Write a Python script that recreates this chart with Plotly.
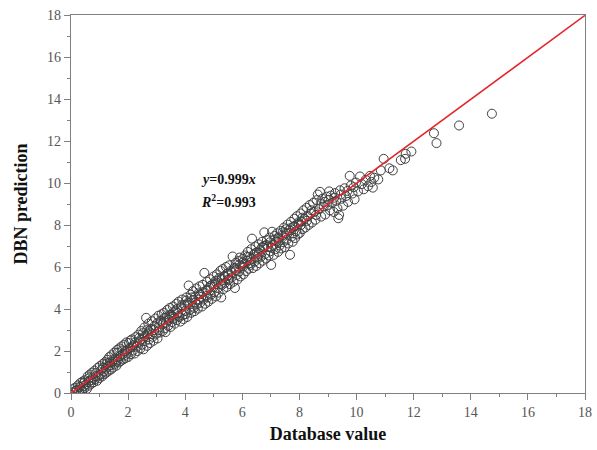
import plotly.graph_objects as go

# Database values vs. DBN model predictions
database_value = [
    0.03, 0.07, 0.11, 0.14, 0.16, 0.21, 0.24, 0.27, 0.31, 0.33, 0.36, 0.39, 0.41, 0.44, 0.47, 0.49, 0.53, 0.56,
    0.58, 0.61, 0.63, 0.66, 0.69, 0.71, 0.74, 0.77, 0.79, 0.82, 0.84, 0.87, 0.91, 0.93, 0.96, 0.99,
    1.01, 1.04, 1.06, 1.09, 1.11, 1.14, 1.17, 1.19, 1.22, 1.24, 1.27, 1.29, 1.32, 1.34, 1.37, 1.40, 1.42, 1.44,
    1.47, 1.51, 1.53, 1.56, 1.59, 1.61, 1.64, 1.67, 1.69, 1.72, 1.74, 1.77, 1.81, 1.83, 1.86, 1.89, 1.91, 1.94,
    1.97,
    2.01, 2.03, 2.07, 2.10, 2.13, 2.17, 2.20, 2.23, 2.26, 2.30, 2.33, 2.36, 2.40, 2.43, 2.46, 2.49, 2.51, 2.54,
    2.57, 2.60, 2.63, 2.66, 2.69, 2.71, 2.74, 2.77, 2.80, 2.83, 2.86, 2.89, 2.93, 2.96, 2.99,
    3.03, 3.06, 3.09, 3.11, 3.14, 3.17, 3.21, 3.23, 3.26, 3.29, 3.31, 3.34, 3.37, 3.40, 3.43, 3.46, 3.49, 3.51,
    3.54, 3.57, 3.60, 3.63, 3.66, 3.69, 3.71, 3.74, 3.77, 3.80, 3.83, 3.86, 3.89, 3.91, 3.94, 3.97,
    4.01, 4.04, 4.07, 4.10, 4.12, 4.16, 4.19, 4.21, 4.24, 4.27, 4.30, 4.33, 4.36, 4.39, 4.41, 4.44, 4.47, 4.50,
    4.53, 4.56, 4.59, 4.61, 4.64, 4.67, 4.70, 4.73, 4.76, 4.79, 4.81, 4.84, 4.87, 4.90, 4.93, 4.96, 4.99,
    5.02, 5.05, 5.08, 5.11, 5.14, 5.17, 5.20, 5.23, 5.26, 5.29, 5.31, 5.34, 5.37, 5.40, 5.43, 5.46, 5.49, 5.51,
    5.54, 5.57, 5.60, 5.63, 5.66, 5.69, 5.71, 5.74, 5.77, 5.80, 5.83, 5.86, 5.89, 5.91, 5.94, 5.97,
    6.01, 6.04, 6.07, 6.10, 6.13, 6.16, 6.19, 6.22, 6.25, 6.28, 6.31, 6.34, 6.37, 6.40, 6.43, 6.46, 6.49, 6.51,
    6.54, 6.57, 6.60, 6.63, 6.66, 6.69, 6.71, 6.74, 6.77, 6.80, 6.83, 6.86, 6.89, 6.92, 6.95, 6.98,
    7.01, 7.04, 7.07, 7.10, 7.13, 7.16, 7.19, 7.22, 7.25, 7.28, 7.31, 7.34, 7.37, 7.40, 7.43, 7.46, 7.49, 7.52,
    7.55, 7.58, 7.61, 7.64, 7.67, 7.70, 7.73, 7.76, 7.79, 7.82, 7.85, 7.88, 7.91, 7.94, 7.97,
    8.01, 8.04, 8.07, 8.11, 8.14, 8.18, 8.21, 8.25, 8.28, 8.32, 8.36, 8.40, 8.44, 8.48, 8.52, 8.56, 8.60, 8.64,
    8.68, 8.72, 8.76, 8.80, 8.85, 8.90, 8.95, 8.98,
    9.04, 9.07, 9.10, 9.15, 9.20, 9.25, 9.29, 9.33, 9.36, 9.39, 9.42, 9.47, 9.53, 9.58, 9.63, 9.70, 9.76, 9.80,
    9.86, 9.93, 9.98,
    10.05, 10.12, 10.18, 10.25, 10.32, 10.40, 10.47, 10.52, 10.57, 10.62, 10.76, 10.85, 10.95, 11.15, 11.27,
    11.55, 11.70, 11.72, 11.92, 12.71, 12.80, 13.59, 14.74,
    # samples lying close to the fitted line
    1.26, 1.48, 1.63, 1.88, 2.08, 2.24, 2.38, 2.52, 2.58, 2.73, 2.91, 3.02, 3.16, 3.28, 3.44, 3.59, 3.72, 3.87,
    3.99, 4.08, 4.22, 4.35, 4.48, 4.62, 4.74, 4.88, 5.00, 5.12, 5.25, 5.38, 5.50, 5.62, 5.78, 5.90, 6.03, 6.17,
    6.30, 6.44, 6.58, 6.70, 6.84, 6.97, 7.12, 7.26, 7.41, 7.56, 7.69, 7.83, 7.96, 8.10, 8.26, 8.42, 8.58, 8.74,
    8.88, 9.02, 9.22, 9.45, 9.68, 9.90, 0.45, 0.62, 0.86, 1.12, 1.36, 1.58, 1.79, 1.96, 2.15, 2.44, 2.67, 2.84,
    3.08, 3.33, 3.55, 3.78, 4.03, 4.26, 4.52, 4.78, 5.04, 5.28, 5.52, 5.76, 6.02, 6.26, 6.52, 6.76, 7.02, 7.27,
    7.53, 7.78, 8.05,
]

dbn_prediction = [
    0.06, 0.18, 0.02, 0.25, 0.09, 0.14, 0.36, 0.05, 0.29, 0.48, 0.18, 0.10, 0.55, 0.33, 0.22, 0.61, 0.41, 0.20,
    0.79, 0.52, 0.35, 0.88, 0.60, 0.44, 0.97, 0.73, 0.51, 1.06, 0.66, 0.95, 0.58, 1.19, 0.82, 0.71,
    1.28, 0.88, 1.10, 0.79, 1.38, 1.02, 0.90, 1.47, 1.16, 0.97, 1.58, 1.25, 1.06, 1.71, 1.31, 1.12, 1.80, 1.48,
    1.21, 1.92, 1.39, 1.62, 1.30, 2.05, 1.58, 1.45, 2.12, 1.76, 1.52, 2.22, 1.85, 1.60, 2.30, 1.97, 1.66, 2.41,
    2.06,
    1.72, 2.38, 2.15, 1.85, 2.55, 2.02, 2.28, 1.88, 2.66, 2.20, 2.00, 2.78, 2.45, 2.12, 2.95, 2.30, 2.58, 2.08,
    3.12, 2.47, 3.58, 2.25, 2.80, 3.30, 2.55, 2.38, 3.05, 3.42, 2.68, 2.49, 3.20, 3.55, 2.82,
    2.60, 3.68, 3.12, 2.88, 3.45, 3.75, 2.95, 3.30, 3.82, 3.08, 2.90, 3.60, 3.95, 3.20, 3.48, 4.05, 3.15, 3.72,
    3.38, 4.12, 3.55, 3.30, 3.90, 4.25, 3.48, 3.80, 4.35, 3.62, 3.40, 4.08, 4.45, 3.70, 3.52, 4.20,
    3.75, 4.55, 3.62, 4.30, 5.12, 3.95, 4.68, 3.82, 4.40, 4.85, 4.05, 3.90, 4.60, 4.98, 4.22, 4.02, 4.75, 5.08,
    4.30, 4.58, 4.12, 5.15, 4.45, 5.72, 4.25, 4.88, 5.30, 4.55, 4.35, 5.02, 5.42, 4.68, 4.48, 5.18, 5.55,
    4.80, 5.32, 4.60, 5.65, 5.00, 4.78, 5.48, 5.82, 4.55, 5.15, 5.90, 4.95, 5.58, 5.25, 6.00, 5.05, 5.70, 5.38,
    6.08, 5.18, 5.82, 5.50, 6.50, 5.30, 5.95, 5.00, 6.20, 5.62, 5.40, 6.28, 5.78, 6.45, 5.55, 6.05,
    6.38, 5.65, 6.15, 6.55, 5.80, 6.30, 6.72, 5.92, 6.48, 6.10, 6.85, 7.35, 5.95, 6.60, 6.25, 6.98, 6.05, 6.70,
    6.40, 7.08, 6.18, 6.82, 6.50, 7.20, 6.30, 6.92, 7.65, 6.62, 6.40, 7.28, 6.95, 6.55, 7.40, 6.75,
    6.10, 7.68, 7.05, 6.58, 7.48, 6.85, 7.22, 7.60, 6.72, 7.35, 7.02, 7.72, 6.88, 7.50, 7.18, 7.88, 6.95, 7.62,
    7.30, 8.02, 7.12, 7.75, 6.58, 8.15, 7.45, 7.20, 7.92, 8.30, 7.38, 7.70, 8.42, 7.55, 8.05,
    7.62, 8.55, 8.18, 7.80, 8.70, 8.30, 7.88, 8.82, 8.42, 8.00, 8.95, 8.55, 8.12, 9.05, 8.62, 8.25, 9.18, 9.45,
    8.75, 9.58, 8.40, 9.25, 8.88, 8.50, 9.35, 8.95,
    9.60, 8.70, 9.40, 9.05, 8.62, 9.52, 9.15, 8.80, 8.32, 8.48, 9.65, 9.25, 8.92, 9.75, 9.38, 9.10, 10.34, 9.88,
    9.50, 9.22, 10.02,
    9.60, 10.31, 9.95, 9.70, 10.15, 9.85, 10.34, 10.05, 9.78, 10.25, 10.17, 10.60, 11.15, 10.70, 10.60,
    11.09, 11.15, 11.39, 11.50, 12.37, 11.90, 12.74, 13.30,
    # samples lying close to the fitted line
    1.41, 1.60, 1.92, 1.78, 2.50, 2.40, 2.62, 2.85, 2.70, 2.95, 3.00, 3.32, 3.40, 3.58, 3.70, 3.85, 4.00, 4.18,
    3.90, 4.22, 4.55, 4.30, 4.45, 4.80, 4.62, 5.10, 5.05, 5.35, 5.20, 5.55, 5.60, 5.75, 5.85, 6.12, 6.02, 6.48,
    6.40, 6.65, 6.68, 6.95, 7.05, 7.18, 7.30, 7.40, 7.65, 7.58, 7.85, 7.95, 8.12, 8.35, 8.20, 8.70, 8.48, 9.00,
    9.10, 9.20, 9.30, 9.45, 9.62, 9.80, 0.48, 0.70, 0.80, 1.20, 1.45, 1.50, 2.02, 1.88, 2.20, 2.55, 3.02, 2.80,
    2.98, 3.35, 3.62, 3.68, 4.40, 4.12, 4.70, 4.90, 5.18, 5.45, 5.42, 5.95, 6.22, 6.18, 6.50, 7.00, 6.92, 7.20,
    7.80, 7.60, 8.00,
]

# Linear fit through the origin
fit_slope = 0.999
fit_r2 = 0.993
fit_x = [0, 18]
fit_y = [fit_slope * v for v in fit_x]

tick_vals = [0, 2, 4, 6, 8, 10, 12, 14, 16, 18]

serif = "Liberation Serif, Times New Roman, serif"

fig = go.Figure()

fig.add_trace(go.Scatter(
    x=database_value, y=dbn_prediction, mode="markers",
    marker=dict(symbol="circle-open", size=9, color="#404040", line=dict(width=1)),
    showlegend=False,
))

fig.add_trace(go.Scatter(
    x=fit_x, y=fit_y, mode="lines",
    line=dict(color="#e3262b", width=1.6),
    showlegend=False,
))

axis_common = dict(
    range=[0, 18],
    tickmode="array",
    tickvals=tick_vals,
    ticks="outside",
    ticklen=6,
    tickwidth=1,
    tickcolor="#808080",
    minor=dict(dtick=1, ticks="outside", ticklen=3, tickcolor="#808080"),
    showline=True,
    linecolor="#808080",
    linewidth=1.2,
    mirror=True,
    showgrid=False,
    zeroline=False,
    automargin=False,
    tickfont=dict(family=serif, size=14, color="#555555"),
)

fig.update_xaxes(
    **axis_common,
    title=dict(text="<b>Database value</b>", font=dict(family=serif, size=18, color="#111111"), standoff=8),
)
fig.update_yaxes(
    **axis_common,
    title=dict(text="<b>DBN prediction</b>", font=dict(family=serif, size=18, color="#111111"), standoff=14),
)

fig.add_annotation(
    x=5.53, y=10.19, xref="x", yref="y", showarrow=False,
    text=f"<b><i>y</i>={fit_slope}<i>x</i></b>",
    font=dict(family=serif, size=14, color="#111111"),
)
fig.add_annotation(
    x=5.53, y=9.14, xref="x", yref="y", showarrow=False,
    text=f"<b><i>R</i><sup>2</sup>={fit_r2}</b>",
    font=dict(family=serif, size=14, color="#111111"),
)

fig.update_layout(
    width=597, height=450,
    margin=dict(l=71, r=12, t=15, b=57),
    plot_bgcolor="white",
    paper_bgcolor="white",
)

fig.write_html("out.html")
